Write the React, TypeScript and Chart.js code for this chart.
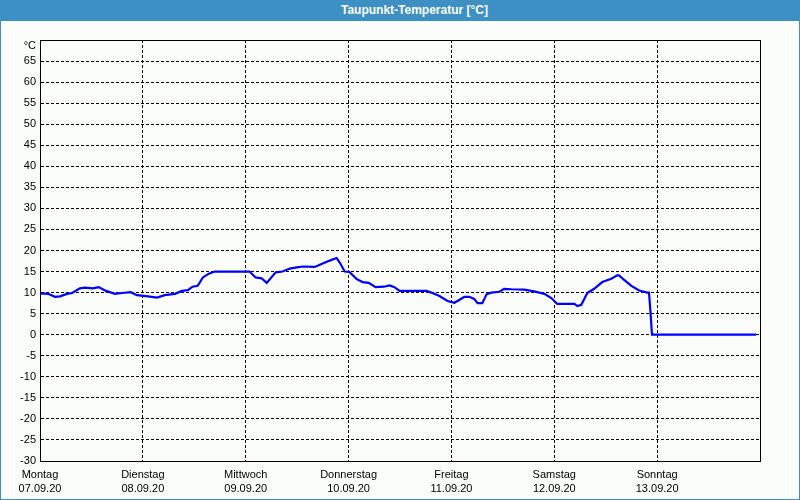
import { useEffect, useRef } from "react";
import { Chart, registerables } from "chart.js";

Chart.register(...registerables);

const titleText = "Taupunkt-Temperatur [°C]";
const unitLabel = "°C";

const dayNames = ["Montag", "Dienstag", "Mittwoch", "Donnerstag", "Freitag", "Samstag", "Sonntag"];
const dayDates = ["07.09.20", "08.09.20", "09.09.20", "10.09.20", "11.09.20", "12.09.20", "13.09.20"];

// hours since Monday 00:00
const hours = [
  0, 1.9, 3.5, 4.7, 6.3, 7.5, 9.3, 10.5, 12.3, 13.7, 15.4, 17.5, 19.1, 21.2, 22.6,
  25.2, 27.3, 29.1, 31.5, 33.1, 34.5, 35.6, 36.8, 38.0, 39.4, 40.8,
  48.9, 50.3, 51.7, 52.9, 55.0, 56.6, 58.3, 59.9, 61.3, 64.1, 65.7, 67.6, 69.2, 69.9,
  71.1, 72.2, 73.9, 75.3, 76.7, 78.3, 80.2, 81.6, 82.7, 83.9,
  90.2, 91.3, 93.2, 95.1, 96.7, 97.9, 99.0, 100.2, 101.3, 102.1, 103.2, 104.2, 105.3,
  107.2, 108.3, 110.0, 113.0, 115.3, 117.7, 119.3, 120.7,
  124.7, 125.4, 126.3, 127.7, 129.3, 131.2, 133.3, 134.7, 135.1, 136.3, 138.0, 139.8,
  141.7, 142.1, 142.4, 142.8, 167.1,
];

// dew point in °C
const dewPoint = [
  9.8, 9.7, 9.0, 9.1, 9.7, 9.9, 11.0, 11.2, 11.0, 11.3, 10.4, 9.7, 9.9, 10.1, 9.4,
  9.1, 8.8, 9.4, 9.7, 10.4, 10.6, 11.4, 11.6, 13.6, 14.5, 15.0,
  15.0, 13.6, 13.4, 12.3, 14.8, 15.0, 15.7, 16.0, 16.2, 16.1, 16.8, 17.6, 18.2, 17.2,
  15.0, 14.9, 13.2, 12.5, 12.3, 11.3, 11.4, 11.7, 11.3, 10.4,
  10.4, 10.0, 9.2, 8.0, 7.6, 8.3, 9.0, 9.0, 8.5, 7.5, 7.5, 9.6, 10.0,
  10.2, 10.9, 10.8, 10.7, 10.3, 9.7, 8.7, 7.3,
  7.3, 6.8, 7.1, 9.9, 10.9, 12.5, 13.3, 14.1, 14.1, 13.0, 11.6, 10.5,
  10.0, 10.0, 6.0, 0.0, 0.0,
];

const yMin = -30;
const yMax = 70;
const yStep = 5;
const xMin = 0;
const xMax = 168;
const xStep = 24;

const FONT = '"Liberation Sans", Arial, sans-serif';
const BLUE = "#3c90c4";

export default function App() {
  const ref = useRef<HTMLCanvasElement>(null);

  useEffect(() => {
    if (!ref.current) return;
    const framePlugin = {
      id: "frame",
      afterDraw(chart: any) {
        const { ctx, chartArea: a } = chart;
        ctx.save();
        ctx.setLineDash([]);
        ctx.strokeStyle = "#000";
        ctx.lineWidth = 1;
        const l = Math.round(a.left) + 0.5;
        const t = Math.round(a.top) + 0.5;
        const r = Math.round(a.right) + 0.5;
        const b = Math.round(a.bottom) + 0.5;
        ctx.strokeRect(l, t, r - l, b - t);
        ctx.fillStyle = "#000";
        ctx.font = `11px ${FONT}`;
        ctx.textAlign = "right";
        ctx.textBaseline = "middle";
        ctx.fillText(unitLabel, a.left - 4, a.top + 6);
        ctx.restore();
      },
    };

    const chart = new Chart(ref.current, {
      type: "line",
      data: {
        datasets: [
          {
            data: hours.map((h, i) => ({ x: h, y: dewPoint[i] })),
            borderColor: "#0000ff",
            borderWidth: 2.2,
            pointRadius: 0,
            tension: 0,
            fill: false,
          },
        ],
      },
      options: {
        responsive: false,
        animation: false,
        events: [],
        layout: { padding: { top: 40, right: 40, left: 0, bottom: 0 } },
        plugins: {
          legend: { display: false },
          tooltip: { enabled: false },
          title: { display: false },
        },
        scales: {
          x: {
            type: "linear",
            min: xMin,
            max: xMax,
            afterFit(scale: any) {
              scale.height = 39;
            },
            ticks: {
              stepSize: xStep,
              autoSkip: false,
              maxRotation: 0,
              padding: 6,
              color: "#000",
              font: { family: FONT, size: 11, lineHeight: 1.36 },
              callback: (v: any) => {
                const i = Math.round(Number(v) / xStep);
                return i < dayNames.length ? [dayNames[i], dayDates[i]] : "";
              },
            },
            grid: { color: "#000", lineWidth: 1, drawTicks: false },
            border: { display: true, color: "#000", width: 1, dash: [3, 2] },
          },
          y: {
            type: "linear",
            min: yMin,
            max: yMax,
            afterFit(scale: any) {
              scale.width = 40;
            },
            ticks: {
              stepSize: yStep,
              padding: 4,
              color: "#000",
              font: { family: FONT, size: 11 },
              callback: (v: any) => (Number(v) === yMax ? "" : String(v)),
            },
            grid: { color: "#000", lineWidth: 1, drawTicks: false },
            border: { display: true, color: "#000", width: 1, dash: [3, 2] },
          },
        },
      },
      plugins: [framePlugin],
    });
    return () => chart.destroy();
  }, []);

  return (
    <div
      style={{
        position: "fixed",
        left: 0,
        top: 0,
        width: 800,
        height: 500,
        background: "#fbfdfb",
        overflow: "hidden",
      }}
    >
      <canvas ref={ref} width={800} height={500} style={{ position: "absolute", left: 0, top: 0 }} />
      <div
        style={{
          position: "absolute",
          left: 0,
          top: 0,
          width: 800,
          height: 21,
          boxSizing: "border-box",
          background: BLUE,
          color: "#fff",
          fontFamily: FONT,
          fontWeight: "bold",
          fontSize: 12,
          lineHeight: "20px",
          textAlign: "center",
          paddingLeft: 29,
        }}
      >
        {titleText}
      </div>
      <div
        style={{
          position: "absolute",
          left: 0,
          top: 0,
          width: 800,
          height: 500,
          boxSizing: "border-box",
          border: `1px solid ${BLUE}`,
          pointerEvents: "none",
        }}
      />
    </div>
  );
}
